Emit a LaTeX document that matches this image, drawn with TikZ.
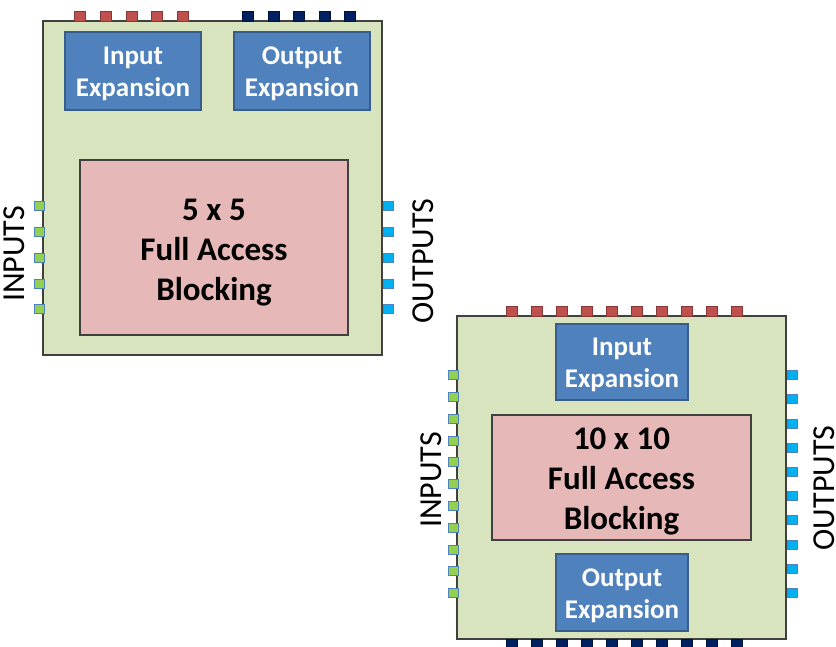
\documentclass[tikz,border=0pt]{standalone}
\usepackage{fontspec}
\setmainfont{Carlito}
\definecolor{chipgreen}{HTML}{D7E4BD}
\definecolor{expblue}{HTML}{4F81BD}
\definecolor{expedge}{HTML}{385D8A}
\definecolor{corepink}{HTML}{E6B9B8}
\definecolor{pinred}{HTML}{C0504D}
\definecolor{pinnavy}{HTML}{002060}
\definecolor{pingreen}{HTML}{92D050}
\definecolor{pincyan}{HTML}{00B0F0}
\begin{document}
\begin{tikzpicture}[x=1pt,y=-1pt]
\tikzset{blk/.style={inner sep=0pt,outer sep=0pt,align=center},
chip/.style={blk,draw=black!75,line width=1.2pt,fill=chipgreen},
core/.style={blk,draw=black!75,line width=1.2pt,fill=corepink},
coretxt/.style={blk,font=\bfseries\fontsize{33}{40}\selectfont},
exp/.style={blk,draw=expedge,line width=1.5pt,fill=expblue},
exptxt/.style={blk,text=white,font=\bfseries\fontsize{27}{32}\selectfont},
pin/.style={inner sep=0pt,outer sep=0pt,line width=0.8pt},
toppin/.style={pin,minimum width=11pt,minimum height=10pt},
sidepin/.style={pin,minimum width=10pt,minimum height=9pt,draw=expblue},
lbl/.style={inner sep=0pt,font=\fontsize{32}{36}\selectfont,rotate=90},
}
\useasboundingbox (0,0) rectangle (836,646);

% 5 x 5 chip
\node[chip,minimum width=339pt,minimum height=334pt] (chipA) at (212.5,188) {};
\node[exp,minimum width=136pt,minimum height=78pt] (inexpA) at (133,71) {};
\node[exptxt] at ([yshift=-3pt]inexpA.center) {Input\\Expansion};
\node[exp,minimum width=136pt,minimum height=78pt] (outexpA) at (302,71) {};
\node[exptxt] at ([yshift=-3pt]outexpA.center) {Output\\Expansion};
\node[core,minimum width=268pt,minimum height=175pt] (coreA) at (214,247.5) {};
\node[coretxt] at ([yshift=-5pt]coreA.center) {5 x 5\\Full Access\\Blocking};
\foreach \i in {0,...,4} {
  \node[toppin,fill=pinred,draw=pinred!70!black] (redA\i) at ({80+25.7*\i},16) {};
  \node[toppin,fill=pinnavy,draw=pinnavy!60!black] (navyA\i) at ({248+25.5*\i},16) {};
  \node[sidepin,fill=pingreen] (inA\i) at (39,{206+25.8*\i}) {};
  \node[sidepin,fill=pincyan] (outA\i) at (388.5,{206+25.8*\i}) {};
}
\node[lbl] (inputsA) at (14,254) {INPUTS};
\node[lbl] (outputsA) at (423,261) {OUTPUTS};

% 10 x 10 chip
\node[chip,minimum width=329pt,minimum height=323pt] (chipB) at (621.5,477.5) {};
\node[exp,minimum width=132pt,minimum height=76pt] (inexpB) at (622,362) {};
\node[exptxt] at ([yshift=-3pt]inexpB.center) {Input\\Expansion};
\node[core,minimum width=259pt,minimum height=125pt] (coreB) at (621.5,477.5) {};
\node[coretxt] at ([yshift=-4pt]coreB.center) {10 x 10\\Full Access\\Blocking};
\node[exp,minimum width=132pt,minimum height=77pt] (outexpB) at (622,592.5) {};
\node[exptxt] at ([yshift=-3pt]outexpB.center) {Output\\Expansion};
\foreach \i in {0,...,9} {
  \node[toppin,fill=pinred,draw=pinred!70!black] (redB\i) at ({512+25*\i},311) {};
  \node[toppin,fill=pinnavy,draw=pinnavy!60!black] (navyB\i) at ({512+25*\i},644) {};
  \node[sidepin,fill=pincyan] (outB\i) at (792,{375+24.2*\i}) {};
}
\foreach \i in {0,...,10}
  \node[sidepin,fill=pingreen] (inB\i) at (453,{375+21.8*\i}) {};
\node[lbl] (inputsB) at (431,480) {INPUTS};
\node[lbl] (outputsB) at (824,488) {OUTPUTS};

\end{tikzpicture}
\end{document}
